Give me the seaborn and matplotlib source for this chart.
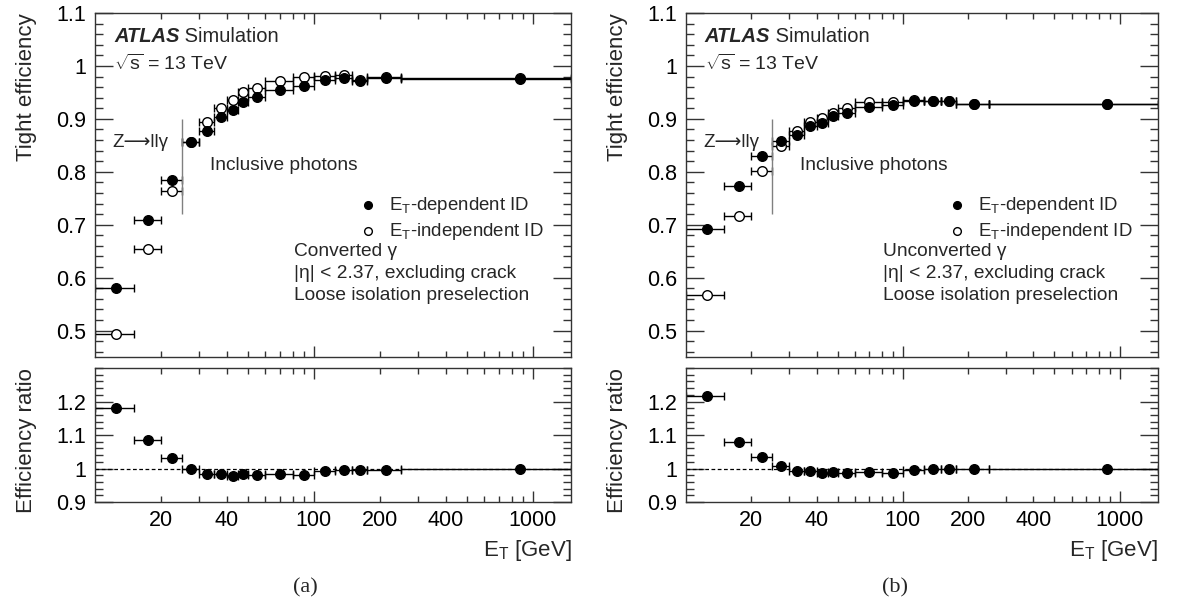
import numpy as np
import pandas as pd
import matplotlib
import matplotlib.pyplot as plt
import matplotlib.ticker as mticker
import seaborn as sns

matplotlib.use('Agg')

# --- data ---
et_lo = [10, 15, 20, 25, 30, 35, 40, 45, 50, 60, 80, 100, 125, 150, 175, 250]
et_hi = [15, 20, 25, 30, 35, 40, 45, 50, 60, 80, 100, 125, 150, 175, 250, 1500]
et_mid = [12.5, 17.5, 22.5, 27.5, 32.5, 37.5, 42.5, 47.5, 55, 70, 90, 112.5, 137.5, 162.5, 212.5, 875]

# (a) converted photons
conv_dep = [0.580, 0.709, 0.784, 0.856, 0.878, 0.904, 0.917, 0.932, 0.942, 0.955,
            0.962, 0.973, 0.977, 0.971, 0.978, 0.976]
conv_indep = [0.493, 0.655, 0.763, 0.856, 0.894, 0.920, 0.936, 0.950, 0.959, 0.971,
              0.979, 0.981, 0.982, 0.974, 0.980, 0.977]
conv_ratio = [1.180, 1.086, 1.030, 1.000, 0.984, 0.984, 0.979, 0.983, 0.981, 0.984,
              0.982, 0.994, 0.996, 0.997, 0.997, 0.998]

# (b) unconverted photons
unconv_dep = [0.691, 0.774, 0.830, 0.858, 0.869, 0.886, 0.892, 0.905, 0.911, 0.922,
              0.926, 0.933, 0.933, 0.934, 0.929, 0.928]
unconv_indep = [0.568, 0.717, 0.801, 0.849, 0.877, 0.894, 0.902, 0.911, 0.921, 0.931,
                0.932, 0.935, 0.934, 0.934, 0.929, 0.928]
unconv_ratio = [1.215, 1.078, 1.034, 1.008, 0.993, 0.993, 0.987, 0.990, 0.988, 0.989,
                0.988, 0.996, 0.998, 0.999, 1.000, 1.000]

x_labels = [20, 40, 100, 200, 400, 1000]

sns.set_theme(style='ticks')
plt.rcParams['font.family'] = ['Liberation Sans', 'DejaVu Sans']
plt.rcParams['mathtext.fontset'] = 'custom'
plt.rcParams['mathtext.rm'] = 'Liberation Sans'
plt.rcParams['mathtext.it'] = 'Liberation Sans:italic'
plt.rcParams['axes.edgecolor'] = '#333333'
plt.rcParams['axes.linewidth'] = 1.0

ET = 'E$_{\\mathregular{T}}$'


def style_xaxis(ax, show_labels):
    ax.set_xscale('log')
    ax.set_xlim(10, 1500)
    major = [10, 100, 1000]
    minor = [v * d for d in (10, 100) for v in range(2, 10)] + [1000]
    ax.xaxis.set_major_locator(mticker.FixedLocator([100, 1000]))
    ax.xaxis.set_minor_locator(mticker.FixedLocator([m for m in minor if m not in major]))
    if show_labels:
        fmt = mticker.FuncFormatter(lambda v, p: f'{int(round(v))}' if int(round(v)) in x_labels else '')
        ax.xaxis.set_major_formatter(fmt)
        ax.xaxis.set_minor_formatter(fmt)
    else:
        ax.xaxis.set_major_formatter(mticker.NullFormatter())
        ax.xaxis.set_minor_formatter(mticker.NullFormatter())
    ax.tick_params(axis='x', which='major', length=8, width=1)
    ax.tick_params(axis='x', which='minor', length=4, width=1)
    ax.tick_params(axis='both', which='both', direction='in', top=True, right=True,
                   colors='#333333', labelcolor='black', labelsize=15.5, pad=6)


def draw_panel(ax, axr, dep, indep, ratio, sample_lines):
    df = pd.DataFrame({'et': et_mid, 'lo': et_lo, 'hi': et_hi,
                       'dep': dep, 'indep': indep, 'ratio': ratio})
    xerr = [df['et'] - df['lo'], df['hi'] - df['et']]

    # --- efficiency panel ---
    ax.errorbar(df['et'], df['indep'], xerr=xerr, fmt='none', ecolor='black',
                elinewidth=1, capsize=3, capthick=1, zorder=2)
    ax.errorbar(df['et'], df['dep'], xerr=xerr, fmt='none', ecolor='black',
                elinewidth=1, capsize=3, capthick=1, zorder=2)
    sns.scatterplot(data=df, x='et', y='indep', ax=ax, color='white', edgecolor='black',
                    linewidth=1, s=48, zorder=3, label=ET + '-independent ID')
    sns.scatterplot(data=df, x='et', y='dep', ax=ax, color='black', edgecolor='black',
                    linewidth=1, s=48, zorder=4, label=ET + '-dependent ID')
    ax.vlines(25, 0.72, 0.9, color='gray', lw=1)

    ax.set_ylim(0.45, 1.1)
    ax.yaxis.set_major_locator(mticker.MultipleLocator(0.1))
    ax.yaxis.set_minor_locator(mticker.MultipleLocator(0.02))
    ax.yaxis.set_major_formatter(mticker.FuncFormatter(lambda v, p: f'{v:g}'))
    style_xaxis(ax, False)
    ax.tick_params(axis='y', which='major', length=13, width=1)
    ax.tick_params(axis='y', which='minor', length=6, width=1)
    ax.set_xlabel('')
    ax.set_ylabel('Tight efficiency', fontsize=16, loc='top', labelpad=14)

    atlas = ax.text(0.04, 0.932, 'ATLAS', transform=ax.transAxes, fontsize=14.5,
                    fontweight='bold', fontstyle='italic', va='center')
    ax.annotate(' Simulation', xy=(1, 0.5), xycoords=atlas, fontsize=14.5, va='center')
    ax.text(0.04, 0.853, '$\\sqrt{\\mathregular{s}}$ = 13 TeV', transform=ax.transAxes,
            fontsize=14, va='center')
    ax.text(0.037, 0.625, 'Z\u27f6ll\u03b3', transform=ax.transAxes, fontsize=13.5,
            va='center', family=['Liberation Sans', 'DejaVu Sans'])
    ax.text(0.241, 0.557, 'Inclusive photons', transform=ax.transAxes, fontsize=13.8,
            va='center')
    ax.text(0.418, 0.33, sample_lines, transform=ax.transAxes, fontsize=13.8,
            va='top', linespacing=1.35)

    handles, labels = ax.get_legend_handles_labels()
    ax.legend(handles[::-1], labels[::-1], loc='upper left', bbox_to_anchor=(0.535, 0.472),
              frameon=False, fontsize=13.4, handletextpad=0.1, labelspacing=0.28,
              borderaxespad=0, borderpad=0, markerscale=0.8)

    # --- ratio panel ---
    axr.axhline(1.0, ls='--', lw=0.9, color='black', dashes=(3, 2), zorder=1)
    axr.errorbar(df['et'], df['ratio'], xerr=xerr, fmt='none', ecolor='black',
                 elinewidth=1, capsize=3, capthick=1, zorder=2)
    sns.scatterplot(data=df, x='et', y='ratio', ax=axr, color='black', edgecolor='black',
                    linewidth=1, s=48, zorder=3, legend=False)
    axr.set_ylim(0.9, 1.3)
    axr.yaxis.set_major_locator(mticker.FixedLocator([0.9, 1.0, 1.1, 1.2]))
    axr.yaxis.set_minor_locator(mticker.MultipleLocator(0.02))
    axr.yaxis.set_major_formatter(mticker.FuncFormatter(lambda v, p: f'{v:g}'))
    style_xaxis(axr, True)
    axr.tick_params(axis='y', which='major', length=13, width=1)
    axr.tick_params(axis='y', which='minor', length=6, width=1)
    axr.set_ylabel('Efficiency ratio', fontsize=16, loc='top', labelpad=14)
    axr.set_xlabel(ET + ' [GeV]', fontsize=16, loc='right', labelpad=5)


fig = plt.figure(figsize=(11.78, 6.08), dpi=100)
top_b, top_h = 0.4128, 0.5658
rat_b, rat_h = 0.1743, 0.2204

ax_a = fig.add_axes([0.0806, top_b, 0.4045, top_h])
axr_a = fig.add_axes([0.0806, rat_b, 0.4045, rat_h])
ax_b = fig.add_axes([0.5823, top_b, 0.4007, top_h])
axr_b = fig.add_axes([0.5823, rat_b, 0.4007, rat_h])

draw_panel(ax_a, axr_a, conv_dep, conv_indep, conv_ratio,
           'Converted \u03b3\n|\u03b7| < 2.37, excluding crack\nLoose isolation preselection')
draw_panel(ax_b, axr_b, unconv_dep, unconv_indep, unconv_ratio,
           'Unconverted \u03b3\n|\u03b7| < 2.37, excluding crack\nLoose isolation preselection')

for lbl, xpos in (('(a)', 0.259), ('(b)', 0.760)):
    fig.text(xpos, 0.033, lbl, ha='center', va='center', fontsize=16,
             family=['Liberation Serif', 'DejaVu Serif'])

fig.savefig('out.png', dpi=100)
plt.close(fig)
